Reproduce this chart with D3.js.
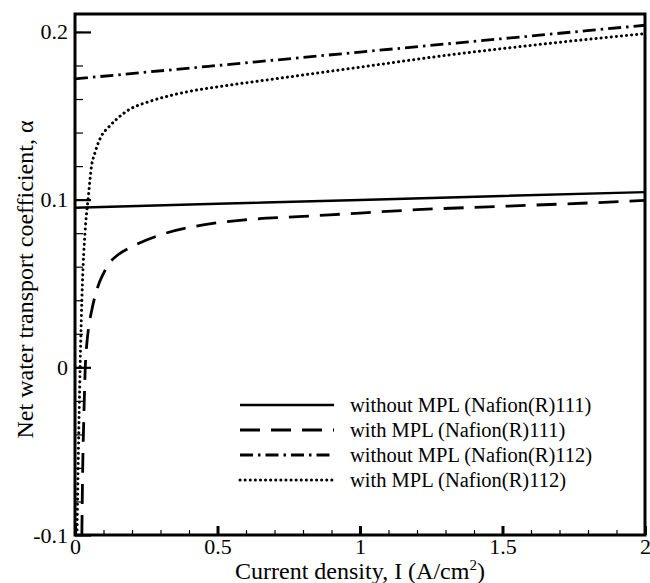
<!DOCTYPE html>
<html>
<head>
<meta charset="utf-8">
<title>Net water transport coefficient</title>
<style>
    body { margin: 0; background: #fff; }
    text { font-family: "Liberation Serif", "Times New Roman", serif; fill: #000; }
</style>
</head>
<body>
<script src="https://cdn.jsdelivr.net/npm/d3@7"></script>
<script>
// data
var xTicks = [0, 0.5, 1, 1.5, 2];
var yTicks = [-0.1, 0, 0.1, 0.2];
var xTickLabels = ["0", "0.5", "1", "1.5", "2"];
var yTickLabels = ["-0.1", "0", "0.1", "0.2"];

var seriesNames = [
    "without MPL (Nafion(R)111)",
    "with MPL (Nafion(R)111)",
    "without MPL (Nafion(R)112)",
    "with MPL (Nafion(R)112)"
];

var noMpl111I = [0, 0.5, 1.0, 1.5, 2.0];
var noMpl111A = [0.0952, 0.0975, 0.0998, 0.1022, 0.1045];

var mpl111I = [0.024, 0.027, 0.031, 0.036, 0.042, 0.05, 0.06, 0.08, 0.1, 0.12, 0.15, 0.2, 0.3, 0.45, 0.6, 0.8, 1.0, 1.2, 1.5, 1.8, 2.0];
var mpl111A = [-0.1, -0.06, -0.03, 0.0, 0.015, 0.026, 0.035, 0.048, 0.056, 0.062, 0.067, 0.072, 0.079, 0.085, 0.088, 0.090, 0.092, 0.094, 0.096, 0.098, 0.0995];

var noMpl112I = [0, 0.5, 1.0, 1.5, 2.0];
var noMpl112A = [0.172, 0.180, 0.188, 0.196, 0.204];

var mpl112I = [0.007, 0.012, 0.018, 0.026, 0.035, 0.047, 0.058, 0.07, 0.082, 0.1, 0.111, 0.146, 0.193, 0.252, 0.333, 0.415, 0.51, 0.7, 1.0, 1.3, 1.6, 2.0];
var mpl112A = [-0.1, -0.05, 0.0, 0.05, 0.08, 0.102, 0.120, 0.128, 0.134, 0.140, 0.142, 0.148, 0.154, 0.158, 0.162, 0.165, 0.1675, 0.172, 0.179, 0.186, 0.192, 0.199];

var width = 650, height = 583;
var margin = {top: 14, right: 5, bottom: 48, left: 75};
var w = width - margin.left - margin.right,
    h = height - margin.top - margin.bottom;

var x = d3.scaleLinear().domain([0, 2]).range([0, w]);
var y = d3.scaleLinear().domain([-0.1, 0.2107]).range([h, 0]);

var svg = d3.select("body").append("svg")
    .attr("width", width)
    .attr("height", height);
var g = svg.append("g")
    .attr("transform", "translate(" + margin.left + "," + margin.top + ")");

g.append("defs").append("clipPath").attr("id", "clip")
    .append("rect").attr("width", w).attr("height", h);

// curves
var styles = [
    {dash: null, width: 2.4, cap: "butt"},
    {dash: "20,11", width: 2.8, cap: "butt"},
    {dash: "13,5,2.5,5", width: 2.8, cap: "butt"},
    {dash: "0.1,5", width: 3, cap: "round"}
];
var series = [
    d3.zip(noMpl111I, noMpl111A),
    d3.zip(mpl111I, mpl111A),
    d3.zip(noMpl112I, noMpl112A),
    d3.zip(mpl112I, mpl112A)
];

var line = d3.line()
    .x(function (d) { return x(d[0]); })
    .y(function (d) { return y(d[1]); })
    .curve(d3.curveMonotoneX);

var curves = g.append("g").attr("clip-path", "url(#clip)");
series.forEach(function (s, i) {
    curves.append("path")
        .datum(s)
        .attr("d", line)
        .attr("fill", "none")
        .attr("stroke", "#000")
        .attr("stroke-width", styles[i].width)
        .attr("stroke-linecap", styles[i].cap)
        .attr("stroke-dasharray", styles[i].dash);
});

// minor ticks
var xMinor = d3.range(0, 2.001, 0.1);
var yMinor = d3.range(-0.1, 0.2001, 0.02);

var xAxis = d3.axisBottom(x).tickValues(xTicks)
    .tickFormat(function (d, i) { return xTickLabels[i]; })
    .tickSizeInner(-9).tickSizeOuter(0).tickPadding(3);
var xAxisMinor = d3.axisBottom(x).tickValues(xMinor)
    .tickFormat("").tickSizeInner(-5).tickSizeOuter(0);
var yAxis = d3.axisLeft(y).tickValues(yTicks)
    .tickFormat(function (d, i) { return yTickLabels[i]; })
    .tickSizeInner(-16).tickSizeOuter(0).tickPadding(7);
var yAxisMinor = d3.axisLeft(y).tickValues(yMinor)
    .tickFormat("").tickSizeInner(-8).tickSizeOuter(0);

function styleAxis(sel, tw) {
    sel.select(".domain").remove();
    sel.selectAll(".tick line").attr("stroke", "#000").attr("stroke-width", tw);
    sel.selectAll(".tick text")
        .style("font-family", '"Liberation Serif", "Times New Roman", serif')
        .style("font-size", "22px");
}

g.append("g").attr("transform", "translate(0," + h + ")").call(xAxisMinor).call(styleAxis, 1.2);
g.append("g").attr("transform", "translate(0," + h + ")").call(xAxis).call(styleAxis, 3);
g.append("g").call(yAxisMinor).call(styleAxis, 1.2);
g.append("g").call(yAxis).call(styleAxis, 2.2);

// frame
g.append("rect")
    .attr("width", w).attr("height", h)
    .attr("fill", "none").attr("stroke", "#000").attr("stroke-width", 3);

// legend
var legend = g.append("g").attr("transform", "translate(" + (240 - margin.left) + "," + (405 - margin.top) + ")");
seriesNames.forEach(function (name, i) {
    var row = legend.append("g").attr("transform", "translate(0," + (i * 25) + ")");
    row.append("line")
        .attr("x1", 0).attr("x2", 94).attr("y1", 0).attr("y2", 0)
        .attr("stroke", "#000")
        .attr("stroke-width", styles[i].width)
        .attr("stroke-linecap", styles[i].cap)
        .attr("stroke-dasharray", styles[i].dash);
    row.append("text")
        .attr("x", 110).attr("y", 0).attr("dy", "0.35em")
        .style("font-size", "20.5px")
        .text(name);
});

// axis titles
var xt = svg.append("text")
    .attr("x", margin.left + w / 2).attr("y", 579)
    .attr("text-anchor", "middle")
    .style("font-size", "24px");
xt.append("tspan").text("Current density, I (A/cm");
xt.append("tspan").attr("dy", -9).style("font-size", "15px").text("2");
xt.append("tspan").attr("dy", 9).text(")");

svg.append("text")
    .attr("transform", "translate(33," + (margin.top + h / 2 + 5) + ") rotate(-90)")
    .attr("text-anchor", "middle")
    .style("font-size", "24px")
    .text("Net water transport coefficient, \u03b1");
</script>
</body>
</html>
